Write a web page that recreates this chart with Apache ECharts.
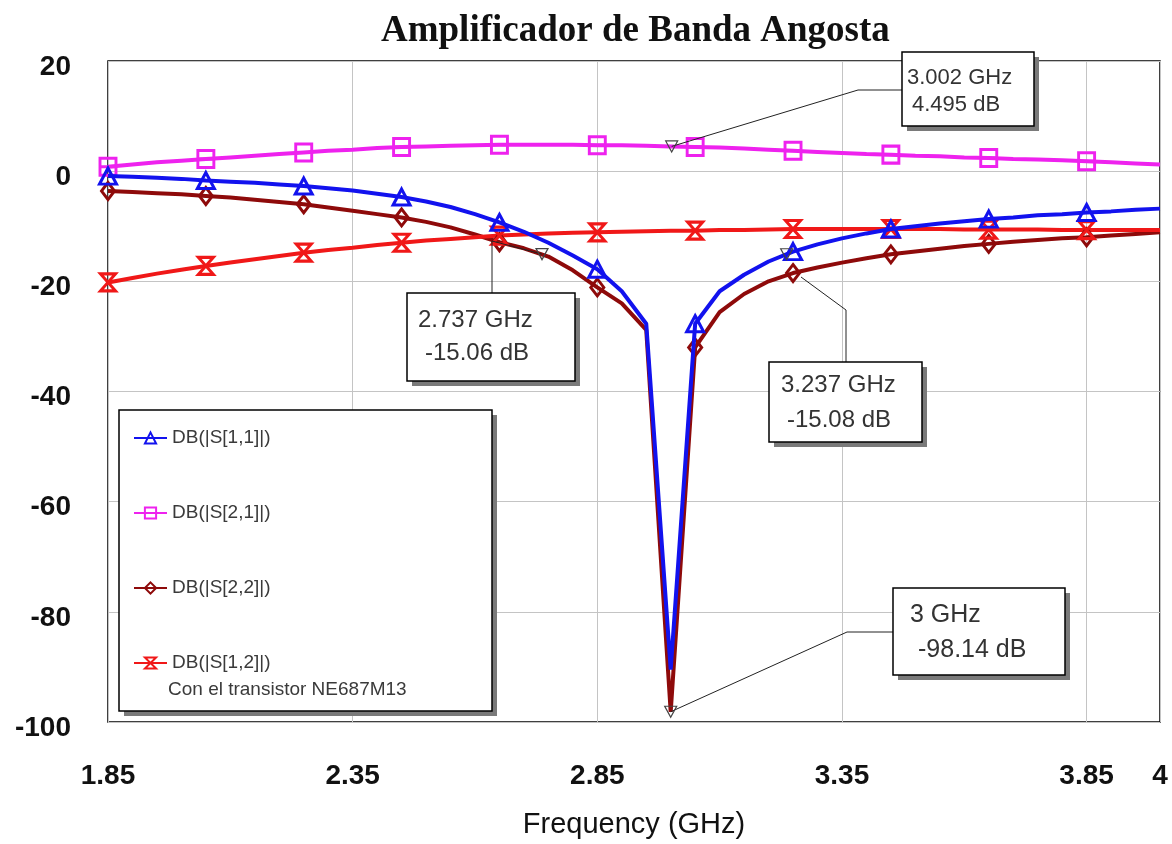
<!DOCTYPE html>
<html lang="es">

<head>
    <meta charset="UTF-8">
    <title>Amplificador de Banda Angosta</title>
    <script src="https://cdn.jsdelivr.net/npm/echarts@6.0.0/dist/echarts.min.js"></script>
    <style>
        html, body { margin: 0; padding: 0; background: #fff; }
    </style>
</head>

<body>
    <div id="main" style="width: 1172px;height:844px;"></div>

    <script>
        // frecuencias (GHz) y curvas en dB
        var freqs = [1.85, 1.9, 1.95, 2.0, 2.05, 2.1, 2.15, 2.2, 2.25, 2.3, 2.35, 2.4, 2.45, 2.5, 2.55, 2.6,
            2.65, 2.7, 2.75, 2.8, 2.85, 2.9, 2.95, 3.0, 3.05, 3.1, 3.15, 3.2, 3.25, 3.3, 3.35, 3.4,
            3.45, 3.5, 3.55, 3.6, 3.65, 3.7, 3.75, 3.8, 3.85, 3.9, 3.95, 4.0];
        var s11 = [-0.9, -1.0, -1.2, -1.4, -1.7, -1.9, -2.1, -2.4, -2.7, -3.1, -3.5, -4.1, -4.7, -5.5, -6.5, -7.8,
            -9.3, -11.0, -13.0, -15.3, -17.8, -21.8, -27.7, -90.5, -27.7, -21.8, -18.8, -16.4, -14.6, -13.3, -12.2, -11.3,
            -10.5, -10.0, -9.5, -9.1, -8.7, -8.4, -8.0, -7.8, -7.5, -7.3, -7.0, -6.8];
        var s21 = [0.8, 1.2, 1.6, 1.9, 2.2, 2.5, 2.8, 3.1, 3.4, 3.7, 3.9, 4.2, 4.4, 4.5, 4.6, 4.7,
            4.8, 4.8, 4.8, 4.8, 4.7, 4.7, 4.6, 4.5, 4.4, 4.3, 4.1, 3.9, 3.7, 3.5, 3.3, 3.1,
            3.0, 2.8, 2.7, 2.5, 2.4, 2.2, 2.1, 2.0, 1.8, 1.6, 1.4, 1.2];
        var s22 = [-3.6, -3.8, -4.0, -4.2, -4.5, -4.8, -5.2, -5.6, -6.0, -6.6, -7.2, -7.8, -8.4, -9.2, -10.2, -11.5,
            -12.9, -14.0, -15.5, -18.0, -21.1, -24.0, -28.8, -98.14, -32.0, -25.6, -22.3, -20.0, -18.5, -17.5, -16.6, -15.8,
            -15.1, -14.6, -14.1, -13.6, -13.2, -12.8, -12.5, -12.2, -12.0, -11.7, -11.4, -11.1];
        var s12 = [-20.2, -19.4, -18.6, -17.9, -17.2, -16.6, -16.0, -15.4, -14.8, -14.3, -13.9, -13.4, -13.0, -12.6, -12.3, -12.0,
            -11.7, -11.5, -11.3, -11.2, -11.1, -11.0, -10.9, -10.8, -10.8, -10.7, -10.7, -10.6, -10.5, -10.5, -10.5, -10.5,
            -10.5, -10.5, -10.5, -10.6, -10.6, -10.6, -10.6, -10.7, -10.7, -10.7, -10.7, -10.7];

        // frecuencias donde se dibujan los simbolos
        var symbolFreqs = [1.85, 2.05, 2.25, 2.45, 2.65, 2.85, 3.05, 3.25, 3.45, 3.65, 3.85];

        var seriesNames = ['DB(|S[1,1]|)', 'DB(|S[2,1]|)', 'DB(|S[2,2]|)', 'DB(|S[1,2]|)'];
        var xTicks = [1.85, 2.35, 2.85, 3.35, 3.85, 4];

        // marcadores
        var markFreqs = [3.002, 2.737, 3.237, 3];
        var markDb = [4.495, -15.06, -15.08, -98.14];

        var chart1 = echarts.init(document.getElementById('main'));

        function buildData(values) {
            return freqs.map(function (f, i) {
                var shown = symbolFreqs.some(function (s) { return Math.abs(s - f) < 1e-6; });
                return shown ? { value: [f, values[i]] } : { value: [f, values[i]], symbol: 'none' };
            });
        }

        function makeSeries(name, values, color, symbol, size, z) {
            return {
                name: name,
                type: 'line',
                data: buildData(values),
                symbol: symbol,
                symbolSize: size,
                showAllSymbol: true,
                z: z,
                lineStyle: { color: color, width: 4 },
                itemStyle: { color: 'rgba(255,255,255,0)', borderColor: color, borderWidth: 3 }
            };
        }

        var triSym = 'path://M5,0L10,9H0Z';
        var boxSym = 'path://M0,0H10V10H0ZM0,5H10';
        var diaSym = 'path://M5,0L10,7L5,14L0,7Z';
        var hourSym = 'path://M0,0H10L0,12H10Z';

        var series = [
            makeSeries(seriesNames[0], s11, '#1212EE', triSym, [17, 16], 3),
            makeSeries(seriesNames[1], s21, '#EE22EE', boxSym, [16, 17], 2),
            makeSeries(seriesNames[2], s22, '#8E0A0A', diaSym, [13, 17], 2),
            makeSeries(seriesNames[3], s12, '#F01818', hourSym, [15, 17], 2)
        ];
        series[0].markPoint = {
            symbol: 'path://M0,0H10L5,9Z',
            symbolSize: [12, 11],
            itemStyle: { color: 'rgba(255,255,255,0)', borderColor: '#444', borderWidth: 1.2 },
            label: { show: false },
            data: markFreqs.map(function (f, i) { return { coord: [f, markDb[i]] }; })
        };

        var option = {
            animation: false,
            backgroundColor: '#fff',
            title: {
                text: 'Amplificador de Banda Angosta',
                left: 376,
                top: 8,
                textStyle: { fontFamily: 'Liberation Serif', fontWeight: 'bold', fontSize: 37, color: '#111' }
            },
            grid: {
                left: 108, right: 12, top: 61, bottom: 119,
                show: true, borderColor: '#000', borderWidth: 1.5, backgroundColor: '#fff'
            },
            legend: {
                data: seriesNames,
                orient: 'vertical',
                left: 128,
                top: 423,
                itemWidth: 33,
                itemHeight: 14,
                itemGap: 55,
                selectedMode: false,
                z: 10,
                textStyle: { fontFamily: 'Liberation Sans', fontSize: 19, color: '#3a3a3a', lineHeight: 20 }
            },
            xAxis: {
                type: 'value',
                min: 1.85,
                max: 4,
                name: 'Frequency (GHz)',
                nameLocation: 'middle',
                nameGap: 88,
                nameTextStyle: { fontFamily: 'Liberation Sans', fontSize: 29, color: '#111' },
                axisLine: { show: false },
                axisTick: { show: false, customValues: xTicks },
                axisLabel: {
                    customValues: xTicks,
                    margin: 40,
                    fontFamily: 'Liberation Sans', fontWeight: 'bold', fontSize: 28, color: '#111'
                },
                splitLine: { show: true, lineStyle: { color: '#c4c4c4', width: 1 } }
            },
            yAxis: {
                type: 'value',
                min: -100,
                max: 20,
                interval: 20,
                axisLine: { show: false },
                axisTick: { show: false },
                axisLabel: {
                    margin: 37,
                    formatter: function (v) { return '{a|' + v + '}'; },
                    rich: {
                        a: {
                            padding: [12, 0, 0, 0],
                            fontFamily: 'Liberation Sans', fontWeight: 'bold', fontSize: 28, color: '#111'
                        }
                    }
                },
                splitLine: { show: true, lineStyle: { color: '#c4c4c4', width: 1 } }
            },
            series: series
        };

        chart1.setOption(option);

        // cuadros de los marcadores y del legend
        function boxWithShadow(x, y, w, h, z) {
            return [
                { type: 'rect', z: z, shape: { x: x + 5, y: y + 5, width: w, height: h }, style: { fill: '#7a7a7a' } },
                { type: 'rect', z: z, shape: { x: x, y: y, width: w, height: h }, style: { fill: '#fff', stroke: '#000', lineWidth: 1.5 } }
            ];
        }

        var pts = markFreqs.map(function (f, i) { return chart1.convertToPixel({ gridIndex: 0 }, [f, markDb[i]]); });

        var boxes = [
            { x: 902, y: 52, w: 132, h: 74, fs: 22, l1: [907, 78], l2: [912, 105] },
            { x: 407, y: 293, w: 168, h: 88, fs: 24, l1: [418, 320], l2: [425, 353] },
            { x: 769, y: 362, w: 153, h: 80, fs: 24, l1: [781, 385], l2: [787, 420] },
            { x: 893, y: 588, w: 172, h: 87, fs: 25, l1: [910, 615], l2: [918, 650] }
        ];
        var leaders = [
            [pts[0], [858, 90], [902, 90]],
            [pts[1], [492, 241], [492, 293]],
            [[801, 277], [846, 310], [846, 362]],
            [pts[3], [847, 632], [893, 632]]
        ];

        var graphics = [];
        graphics = graphics.concat(boxWithShadow(119, 410, 373, 301, 3));
        graphics.push({
            type: 'text', z: 11, left: 168, top: 680,
            style: { text: 'Con el transistor NE687M13', fontFamily: 'Liberation Sans', fontSize: 19, fill: '#3a3a3a' }
        });

        boxes.forEach(function (b, i) {
            graphics.push({
                type: 'polyline', z: 4,
                shape: { points: leaders[i] },
                style: { stroke: '#222', lineWidth: 1, fill: null }
            });
            graphics = graphics.concat(boxWithShadow(b.x, b.y, b.w, b.h, 5));
            graphics.push({
                type: 'text', z: 6, x: b.l1[0], y: b.l1[1],
                style: { text: markFreqs[i] + ' GHz', fontFamily: 'Liberation Sans', fontSize: b.fs, fill: '#333', verticalAlign: 'middle' }
            });
            graphics.push({
                type: 'text', z: 6, x: b.l2[0], y: b.l2[1],
                style: { text: markDb[i] + ' dB', fontFamily: 'Liberation Sans', fontSize: b.fs, fill: '#333', verticalAlign: 'middle' }
            });
        });

        chart1.setOption({ graphic: graphics });
    </script>
</body>

</html>
